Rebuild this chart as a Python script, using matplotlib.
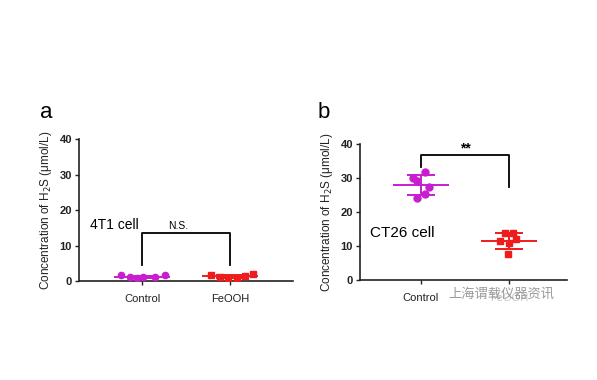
import matplotlib
matplotlib.use("Agg")
import matplotlib.pyplot as plt
import numpy as np

plt.rcParams['font.family'] = ['Liberation Sans', 'DejaVu Sans']

groups = ["Control", "FeOOH"]
purple = "#C81ECF"
red = "#EE1C1C"

# Panel a (4T1 cell)
a_control = [1.6, 1.0, 0.9, 1.0, 1.2, 1.6]
a_feooh = [1.7, 1.0, 0.8, 0.9, 1.3, 2.0]
a_control_jit = [-0.24, -0.14, -0.06, 0.01, 0.15, 0.26]
a_feooh_jit = [-0.21, -0.11, -0.02, 0.08, 0.17, 0.26]

# Panel b (CT26 cell)
b_control = [31.9, 30.0, 29.0, 27.3, 25.2, 24.2]
b_feooh = [13.9, 13.9, 11.5, 12.0, 10.8, 7.6]
b_control_jit = [0.05, -0.09, -0.045, 0.09, 0.05, -0.045]
b_feooh_jit = [-0.05, 0.045, -0.1, 0.085, 0.0, -0.01]

yticks = [0, 10, 20, 30, 40]
ylabel = "Concentration of H$_2$S (μmol/L)"

fig = plt.figure(figsize=(5.97, 3.80), dpi=100)
axa = fig.add_axes([0.1323, 0.2605, 0.3585, 0.3737])
axb = fig.add_axes([0.603, 0.263, 0.347, 0.358])


def draw(ax, data, jits, xlim, msizes):
    for i, (vals, jit, col, mk, ms) in enumerate(zip(data, jits, [purple, red], ['o', 's'], msizes)):
        vals = np.array(vals)
        m, s = vals.mean(), vals.std(ddof=1)
        ax.plot(i + np.array(jit), vals, linestyle='none', marker=mk, color=col,
                markersize=ms, zorder=3)
        ax.hlines(m, i - 0.32, i + 0.32, color=col, lw=1.4, zorder=2)
        ax.hlines([m - s, m + s], i - 0.16, i + 0.16, color=col, lw=1.4, zorder=2)
        ax.vlines(i, m - s, m + s, color=col, lw=1.4, zorder=2)
    ax.set_xlim(*xlim)
    ax.set_ylim(0, 40)
    ax.set_yticks(yticks)
    ax.set_yticklabels([str(t) for t in yticks], fontsize=8, fontweight='bold', color='#222222')
    ax.set_xticks([0, 1])
    ax.set_xticklabels(groups, fontsize=8, color='#222222')
    for sp in ['top', 'right']:
        ax.spines[sp].set_visible(False)
    for sp in ['left', 'bottom']:
        ax.spines[sp].set_linewidth(1.2)
        ax.spines[sp].set_color('#222222')
    ax.tick_params(axis='both', direction='out', length=3, width=1.0, colors='#222222', pad=2)
    ax.tick_params(axis='x', pad=6)
    ax.set_ylabel(ylabel, fontsize=8.5, color='#222222', labelpad=4)


draw(axa, [a_control, a_feooh], [a_control_jit, a_feooh_jit], (-0.72, 1.72), (4.5, 4.0))
draw(axb, [b_control, b_feooh], [b_control_jit, b_feooh_jit], (-0.69, 1.66), (5.0, 4.3))

# Panel a annotations
axa.plot([0, 0, 1, 1], [4.5, 13.4, 13.4, 4.5], color='black', lw=1.3)
axa.text(0.41, 15.6, "N.S.", fontsize=7.5, ha='center', va='center')
axa.text(-0.6, 15.8, "4T1 cell", fontsize=10, ha='left', va='center')

# Panel b annotations
axb.plot([0, 0, 1, 1], [33.3, 36.8, 36.8, 27.3], color='black', lw=1.3)
axb.text(0.5, 38.6, "**", fontsize=10, ha='center', va='center', fontweight='bold')
axb.text(-0.58, 13.8, "CT26 cell", fontsize=11, ha='left', va='center')

# Panel letters
fig.text(40 / 597, 1 - 113 / 380, "a", fontsize=16, ha='left', va='center')
fig.text(318 / 597, 1 - 113 / 380, "b", fontsize=16, ha='left', va='center')

# Watermark
fig.text(448 / 597, 1 - 294 / 380, "上海谓载仪器资讯", fontsize=9.5, color='#9a9a9a',
         ha='left', va='center', family=['Noto Sans CJK SC', 'DejaVu Sans'],
         bbox=dict(facecolor='white', edgecolor='none', alpha=0.75, pad=1))

fig.savefig("out.png", dpi=100)
